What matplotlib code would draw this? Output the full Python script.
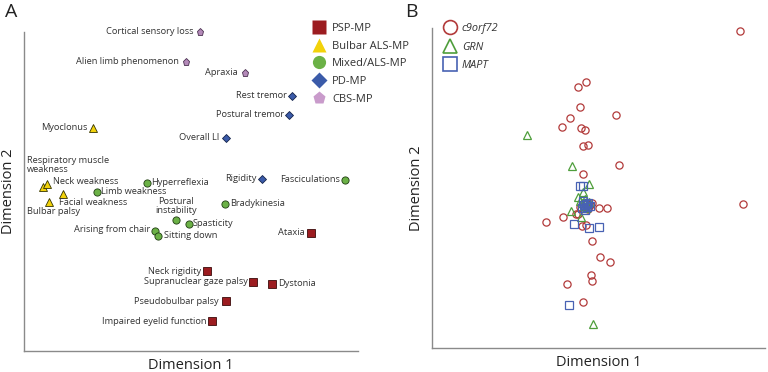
import matplotlib
matplotlib.use("Agg")
import matplotlib.pyplot as plt
from matplotlib.lines import Line2D

# ===========================
# Data (Dimension 1, Dimension 2)
# ===========================

psp_names = ["Ataxia", "Neck rigidity", "Supranuclear gaze palsy", "Dystonia",
             "Pseudobulbar palsy", "Impaired eyelid function"]
psp_x = [31.1, 20.7, 25.3, 27.2, 22.6, 21.2]
psp_y = [13.9, 10.1, 9.0, 8.8, 7.1, 5.1]

bulbar_names = ["Myoclonus", "Respiratory muscle\nweakness", "Neck weakness",
                "Facial weakness", "Bulbar palsy"]
bulbar_x = [9.3, 4.3, 4.7, 6.3, 4.9]
bulbar_y = [24.4, 18.5, 18.8, 17.8, 17.0]

mixed_names = ["Fasciculations", "Hyperreflexia", "Limb weakness", "Bradykinesia",
               "Postural\ninstability", "Spasticity", "Arising from chair", "Sitting down"]
mixed_x = [34.5, 14.7, 9.7, 22.5, 17.6, 18.9, 15.5, 15.8]
mixed_y = [19.2, 18.9, 18.0, 16.8, 15.2, 14.8, 14.1, 13.6]

pd_names = ["Rest tremor", "Postural tremor", "Overall LI", "Rigidity"]
pd_x = [29.2, 28.9, 22.6, 26.2]
pd_y = [27.6, 25.7, 23.4, 19.3]

cbs_names = ["Cortical sensory loss", "Alien limb phenomenon", "Apraxia"]
cbs_x = [20.0, 18.6, 24.5]
cbs_y = [34.0, 31.0, 29.9]

# panel B: individual patients by mutation
c9_x = [74.0, 58.6, 57.8, 58.0, 61.6, 57.0, 56.2, 58.1, 58.5, 58.3, 58.8, 61.9, 58.3,
        74.3, 59.9, 60.7, 54.6, 56.3, 57.6, 57.8, 58.2, 58.6, 59.2, 60.0, 61.0, 59.1,
        59.2, 56.7, 58.3, 59.0, 58.6, 59.2, 58.0, 58.8]
c9_y = [34.1, 29.0, 28.5, 26.5, 25.7, 25.4, 24.5, 24.4, 24.2, 22.6, 22.7, 20.7, 19.8,
        16.8, 16.4, 16.4, 15.0, 15.5, 15.8, 15.8, 14.6, 14.7, 13.1, 11.5, 11.0, 9.7,
        9.1, 8.8, 7.0, 16.7, 16.9, 16.9, 16.5, 16.3]

grn_x = [52.7, 57.2, 58.9, 57.8, 58.3, 57.1, 58.1, 59.3, 58.5, 58.0, 58.4, 58.7,
         58.2, 58.6, 58.9]
grn_y = [23.7, 20.6, 18.8, 17.5, 18.0, 16.1, 15.5, 4.8, 17.3, 17.1, 16.6, 16.8,
         16.9, 16.4, 17.0]

mapt_x = [58.0, 58.3, 57.4, 58.9, 59.9, 56.9, 58.4, 58.7, 58.2, 58.8, 58.5, 59.0,
          58.3, 58.6]
mapt_y = [18.6, 18.6, 14.8, 14.4, 14.5, 6.7, 16.7, 16.5, 16.4, 16.9, 16.2, 16.6,
          17.1, 16.8]

# label offsets in pixels (dx, dy, ha, va)
label_pos = {
    "Ataxia": (-6, 0, "right", "center"),
    "Neck rigidity": (-6, 0, "right", "center"),
    "Supranuclear gaze palsy": (-5, 0, "right", "center"),
    "Dystonia": (6, 0, "left", "center"),
    "Pseudobulbar palsy": (-7, 0, "right", "center"),
    "Impaired eyelid function": (-6, 0, "right", "center"),
    "Myoclonus": (-5, 0, "right", "center"),
    "Respiratory muscle\nweakness": (-16, 13, "left", "bottom"),
    "Neck weakness": (6, 2, "left", "center"),
    "Facial weakness": (-4, -9, "left", "center"),
    "Bulbar palsy": (-22, -10, "left", "center"),
    "Fasciculations": (-5, 0, "right", "center"),
    "Hyperreflexia": (4, 0, "left", "center"),
    "Limb weakness": (4, 0, "left", "center"),
    "Bradykinesia": (5, 0, "left", "center"),
    "Postural\ninstability": (0, 5, "center", "bottom"),
    "Spasticity": (4, 0, "left", "center"),
    "Arising from chair": (-5, 1, "right", "center"),
    "Sitting down": (6, 0, "left", "center"),
    "Rest tremor": (-5, 0, "right", "center"),
    "Postural tremor": (-5, 0, "right", "center"),
    "Overall LI": (-7, 0, "right", "center"),
    "Rigidity": (-5, 0, "right", "center"),
    "Cortical sensory loss": (-7, 0, "right", "center"),
    "Alien limb phenomenon": (-7, 0, "right", "center"),
    "Apraxia": (-7, 0, "right", "center"),
}

plt.rcParams["font.family"] = ["Open Sans", "DejaVu Sans"]

W, H = 768, 372
fig = plt.figure(figsize=(W / 100, H / 100), dpi=100)

GRAY = "#8a8a8a"


def style_axes(ax):
    for s in ["top", "right"]:
        ax.spines[s].set_visible(False)
    for s in ["left", "bottom"]:
        ax.spines[s].set_color(GRAY)
        ax.spines[s].set_linewidth(1.0)
    ax.set_xticks([])
    ax.set_yticks([])
    ax.set_xlabel("Dimension 1", fontsize=10.5, color="#222222", labelpad=5)
    ax.set_ylabel("Dimension 2", fontsize=10.5, color="#222222", labelpad=6)


# ===========================
# Panel A
# ===========================

axA = fig.add_axes([24 / W, (H - 351) / H, (358 - 24) / W, (351 - 32) / H])
axA.set_xlim(2.4, 35.8)
axA.set_ylim(2.1, 34.0)
style_axes(axA)

groups = [
    ("PSP-MP", psp_names, psp_x, psp_y, "s", "#9c1c20", "#3a0a0a"),
    ("Bulbar ALS-MP", bulbar_names, bulbar_x, bulbar_y, "^", "#f2d20a", "#333300"),
    ("Mixed/ALS-MP", mixed_names, mixed_x, mixed_y, "o", "#6bb146", "#1f3d12"),
    ("PD-MP", pd_names, pd_x, pd_y, "D", "#3b5ba9", "#14234a"),
    ("CBS-MP", cbs_names, cbs_x, cbs_y, "p", "#b48ab9", "#4a3050"),
]

handles = []
for label, names, xs, ys, mk, fc, ec in groups:
    ms = 5.2 if mk != "D" else 4.3
    axA.plot(xs, ys, linestyle="none", marker=mk, markersize=ms,
             markerfacecolor=fc, markeredgecolor=ec, markeredgewidth=0.6,
             clip_on=False, zorder=3)
    for n, x, y in zip(names, xs, ys):
        dx, dy, ha, va = label_pos[n]
        axA.annotate(n, (x, y), xytext=(dx, dy), textcoords="offset pixels",
                     ha=ha, va=va, fontsize=6.7, color="#333333",
                     linespacing=1.0, annotation_clip=False)
    lfc = "#c99bcb" if mk == "p" else fc
    handles.append(Line2D([], [], linestyle="none", marker=mk,
                          markersize=9.5 if mk != "D" else 8,
                          markerfacecolor=lfc, markeredgecolor="none", label=label))

legA = fig.legend(handles=handles, loc="upper left",
                  bbox_to_anchor=(313 / W, 1 - 23 / H), frameon=False,
                  fontsize=8, handlelength=1.0, handletextpad=0.7,
                  labelspacing=0.6, borderaxespad=0, borderpad=0)
for t in legA.get_texts():
    t.set_color("#333333")

fig.text(5 / W, 1 - 12 / H, "A", fontsize=14, va="center", ha="left", color="#222222")

# ===========================
# Panel B
# ===========================

axB = fig.add_axes([432 / W, (H - 348) / H, (765 - 432) / W, (348 - 28) / H])
axB.set_xlim(43.2, 76.5)
axB.set_ylim(2.4, 34.4)
style_axes(axB)

b_groups = [
    ("c9orf72", c9_x, c9_y, "o", "#b23a3a"),
    ("GRN", grn_x, grn_y, "^", "#4f9e3c"),
    ("MAPT", mapt_x, mapt_y, "s", "#4862b3"),
]
b_handles = []
for label, xs, ys, mk, col in b_groups:
    axB.plot(xs, ys, linestyle="none", marker=mk, markersize=5.2,
             markerfacecolor="none", markeredgecolor=col, markeredgewidth=0.9,
             clip_on=False, zorder=3)
    b_handles.append(Line2D([], [], linestyle="none", marker=mk, markersize=10,
                            markerfacecolor="none", markeredgecolor=col,
                            markeredgewidth=1.2, label=label))

legB = fig.legend(handles=b_handles, loc="upper left",
                  bbox_to_anchor=(445 / W, 1 - 23 / H), frameon=False,
                  fontsize=7.8, handlelength=1.0, handletextpad=0.55,
                  labelspacing=0.7, borderaxespad=0, borderpad=0)
for t in legB.get_texts():
    t.set_style("italic")
    t.set_color("#333333")

fig.text(405 / W, 1 - 12 / H, "B", fontsize=14, va="center", ha="left", color="#222222")

fig.savefig("out.png", dpi=100)
